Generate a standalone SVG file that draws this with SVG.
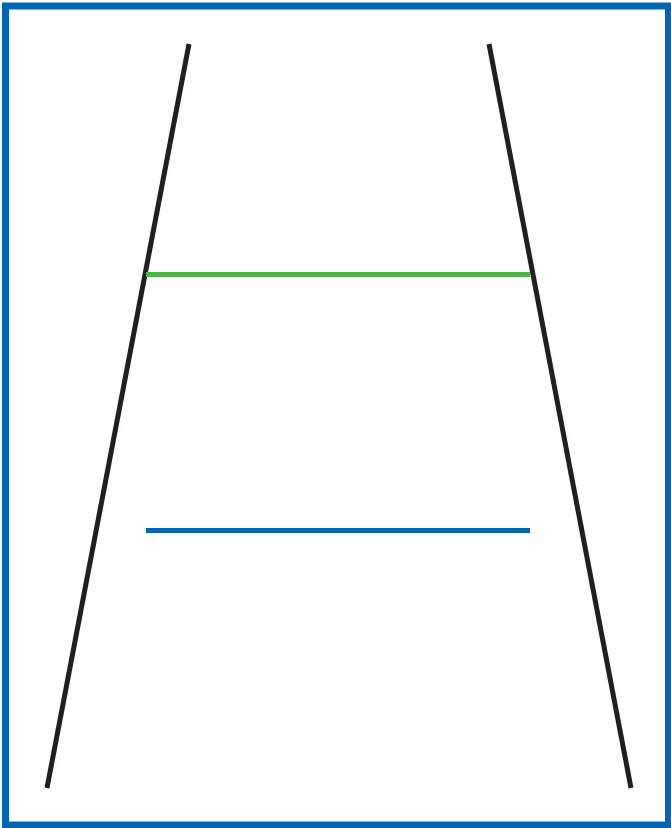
<svg xmlns="http://www.w3.org/2000/svg" width="671" height="828" viewBox="0 0 671 828">
<style>
.rail{stroke:#231f20;stroke-width:5;fill:none}
.bar{stroke-width:5;fill:none}
</style>
<rect x="0" y="0" width="671" height="828" fill="#ffffff"/>
<rect id="frame" x="5.5" y="6" width="663" height="819" fill="none" stroke="#0066b3" stroke-width="7"/>
<g id="rails">
<line id="left-rail" class="rail" x1="189" y1="44" x2="47" y2="788"/>
<line id="right-rail" class="rail" x1="489" y1="44" x2="631" y2="788"/>
</g>
<g id="green-bar"><line class="bar" stroke="#4cb547" x1="146" y1="274.5" x2="530" y2="274.5"/></g>
<g id="blue-bar"><line class="bar" stroke="#0066b3" x1="146" y1="530.5" x2="530" y2="530.5"/></g>
</svg>
